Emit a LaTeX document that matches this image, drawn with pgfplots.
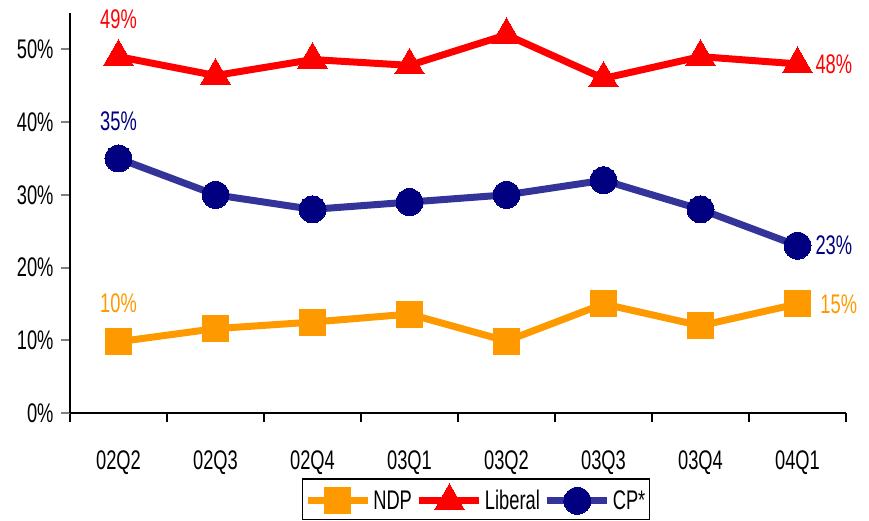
\documentclass[border=0pt]{standalone}
\usepackage{pgfplots}
\pgfplotsset{compat=1.18}
\usepackage{fontspec}
\setmainfont[FakeStretch=0.68]{Liberation Sans}
\definecolor{ndp}{RGB}{255,153,0}
\definecolor{lib}{RGB}{255,0,0}
\definecolor{cpline}{RGB}{51,51,153}
\definecolor{cpmark}{RGB}{0,0,128}
\begin{document}
\begin{tikzpicture}[x=1bp,y=1bp]
\begin{axis}[
  name=ax,
  scale only axis,
  clip=false,
  width=776bp, height=400bp,
  xmin=-0.5, xmax=7.5,
  ymin=0, ymax=55,
  axis lines=left,
  axis line style={-, line width=2bp},
  xtick={0,...,7},
  xticklabels={02Q2,02Q3,02Q4,03Q1,03Q2,03Q3,03Q4,04Q1},
  minor xtick={-0.5,0.5,...,7.5},
  ytick={0,10,...,50},
  yticklabel={\pgfmathprintnumber{\tick}\%},
  tick align=outside,
  major tick length=9bp,
  minor tick length=9bp,
  xtick style={draw=none},
  minor x tick style={line width=2bp, draw=black},
  ytick style={line width=2bp},
  /pgf/number format/assume math mode=true,
  tick label style={font=\fontsize{27}{29}\selectfont},
  xticklabel style={yshift=-25bp},
  yticklabel style={xshift=-4bp},
  legend columns=3,
  legend style={at={(0.523,-0.1625)}, anchor=north, draw=black, line width=1.5bp,
    font=\fontsize{27}{29}\selectfont, inner ysep=5bp, inner xsep=2bp,
    /tikz/every even column/.append style={column sep=2bp}},
  legend image code/.code={
    \draw[#1, mark=none] (0bp,0bp) -- (60bp,0bp);
    \draw[#1, line width=0pt] plot coordinates {(30bp,0bp)};
  },
]
\addplot[ndp, line width=7bp, mark=square*, mark size=13bp, mark options={solid, fill=ndp, draw=ndp, line width=0bp}]
  coordinates {(0,9.8) (1,11.6) (2,12.5) (3,13.6) (4,9.9) (5,15) (6,12) (7,15)};
\addlegendentry{NDP}
\addplot[lib, line width=7bp, mark=triangle*, mark size=17bp, mark options={solid, fill=lib, draw=lib, line width=0bp}]
  coordinates {(0,49) (1,46.4) (2,48.6) (3,47.8) (4,52) (5,46) (6,49) (7,48)};
\addlegendentry{Liberal}
\addplot[cpline, line width=7bp, mark=*, mark size=13.5bp, mark options={solid, fill=cpmark, draw=cpmark, line width=0bp}]
  coordinates {(0,35) (1,30) (2,28) (3,29) (4,30) (5,32) (6,28) (7,23)};
\addlegendentry{CP*}
\node[lib, font=\fontsize{27}{29}\selectfont] at (axis cs:0,54.2) {49\%};
\node[cpmark, font=\fontsize{27}{29}\selectfont] at (axis cs:0,40.1) {35\%};
\node[ndp, font=\fontsize{27}{29}\selectfont] at (axis cs:0,15.1) {10\%};
\node[lib, font=\fontsize{27}{29}\selectfont, anchor=west] at (axis cs:7.15,48) {48\%};
\node[cpmark, font=\fontsize{27}{29}\selectfont, anchor=west] at (axis cs:7.15,23) {23\%};
\node[ndp, font=\fontsize{27}{29}\selectfont, anchor=west] at (axis cs:7.2,15) {15\%};
\end{axis}
\pgfresetboundingbox
\path[use as bounding box] ([xshift=-70bp,yshift=-108bp]ax.south west) rectangle ([xshift=23bp,yshift=13bp]ax.north east);
\end{tikzpicture}
\end{document}
